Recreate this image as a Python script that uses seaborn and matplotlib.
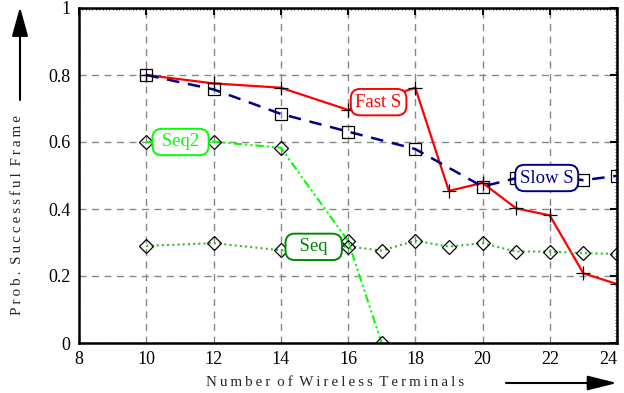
import numpy as np
import pandas as pd
import seaborn as sns
import matplotlib
matplotlib.use("Agg")
import matplotlib.pyplot as plt
from matplotlib.ticker import MultipleLocator, FuncFormatter
from matplotlib.patches import FancyArrowPatch

# Throughput data per scheme
fast_x = [10, 12, 14, 16, 18, 19, 20, 21, 22, 23, 24]
fast_y = [0.800, 0.775, 0.762, 0.696, 0.762, 0.454, 0.478, 0.402, 0.381, 0.208, 0.176]

slow_x = [10, 12, 14, 16, 18, 20, 21, 22, 23, 24]
slow_y = [0.800, 0.757, 0.684, 0.631, 0.579, 0.467, 0.492, 0.499, 0.486, 0.499]

seq2_x = [10, 12, 14, 16, 17]
seq2_y = [0.600, 0.601, 0.583, 0.305, 0.000]

seq_x = [10, 12, 14, 16, 17, 18, 19, 20, 21, 22, 23, 24]
seq_y = [0.290, 0.298, 0.277, 0.288, 0.276, 0.305, 0.288, 0.298, 0.273, 0.273, 0.268, 0.266]

x_ticks = [8, 10, 12, 14, 16, 18, 20, 22, 24]
y_ticks = [0, 0.2, 0.4, 0.6, 0.8, 1.0]

sns.set_theme(style="white")
plt.rcParams["font.family"] = ["Liberation Serif", "DejaVu Serif"]

fig = plt.figure(figsize=(6.24, 3.93), dpi=100)
ax = fig.add_axes([79 / 624, 1 - 343 / 393, (617 - 79) / 624, (343 - 8) / 393])

series = [
    ("Fast S", fast_x, fast_y, "#ff0000", "-", "+", 1.6),
    ("Slow S", slow_x, slow_y, "#00008b", (0, (5, 3.5)), "s", 1.8),
    ("Seq2", seq2_x, seq2_y, "#00ff00", (0, (4, 1.5, 1, 1.5, 1, 1.5)), "D", 1.5),
    ("Seq", seq_x, seq_y, "#33bb33", (0, (1, 1.5)), "D", 1.5),
]

for name, xs, ys, col, ls, mk, lw in series:
    df = pd.DataFrame({"x": xs, "y": ys})
    msize = 9 if mk == "s" else (10 if mk == "+" else 7)
    sns.lineplot(data=df, x="x", y="y", ax=ax, color=col, linestyle=ls, linewidth=lw,
                 marker=mk, markersize=msize, markerfacecolor="none",
                 markeredgecolor="black", markeredgewidth=0.9, legend=False)

ax.set_xlim(8, 24)
ax.set_ylim(0, 1)
ax.set_xticks(x_ticks)
ax.set_yticks(y_ticks)
ax.yaxis.set_major_formatter(FuncFormatter(lambda v, p: f"{v:g}"))
ax.xaxis.set_minor_locator(MultipleLocator(0.1))
ax.yaxis.set_minor_locator(MultipleLocator(0.01))
ax.tick_params(axis="both", which="major", direction="in", length=5, width=1.5,
               top=True, right=True, labelsize=13, pad=6, colors="black")
ax.tick_params(axis="both", which="minor", direction="in", length=1.5, width=0.6,
               top=True, right=True)
ax.set_xlabel("")
ax.set_ylabel("")
# keep the last x tick label inside the figure
ax.get_xticklabels()[-1].set_horizontalalignment("right")
for sp in ax.spines.values():
    sp.set_color("black")
    sp.set_linewidth(1.8)
ax.grid(True, which="major", color="#888888", linestyle=(0, (5, 4)), linewidth=1.0)
ax.set_axisbelow(True)

# Series labels in rounded boxes
labels = [
    ("Fast S", 16.91, 0.719, "#ff0000"),
    ("Slow S", 21.91, 0.4925, "#00008b"),
    (" Seq2 ", 11.02, 0.600, "#00ff00"),
    ("  Seq  ", 14.98, 0.287, "#008800"),
]
for txt, lx, ly, col in labels:
    ax.text(lx, ly, txt, color=col, fontsize=13.5, ha="center", va="center", zorder=5,
            bbox=dict(boxstyle="round,pad=0.25,rounding_size=0.5", facecolor="white",
                      edgecolor=col, linewidth=1.4))

# letter-spaced axis titles
thin = "\u2009"
wsep = thin + " "
xlab = wsep.join(thin.join(w) for w in "Number of Wireless Terminals".split())
ylab = wsep.join(thin.join(w) for w in "Prob. Successful Frame".split())
fig.text(335 / 624, 1 - 383 / 393, xlab, fontsize=10.8, ha="center", va="center")
fig.text(18 / 624, 1 - 215 / 393, ylab, fontsize=10.8, ha="center", va="center", rotation=90)

# Direction arrows beside the axis labels
fig.add_artist(FancyArrowPatch((506 / 624, 1 - 383 / 393), (617 / 624, 1 - 383 / 393),
                               transform=fig.transFigure, color="black", lw=1.5,
                               arrowstyle="-|>,head_length=18,head_width=4.5",
                               mutation_scale=1, shrinkA=0, shrinkB=0))
fig.add_artist(FancyArrowPatch((20 / 624, 1 - 100 / 393), (20 / 624, 1 - 7 / 393),
                               transform=fig.transFigure, color="black", lw=1.5,
                               arrowstyle="-|>,head_length=18,head_width=5",
                               mutation_scale=1, shrinkA=0, shrinkB=0))

fig.savefig("out.png", dpi=100)
